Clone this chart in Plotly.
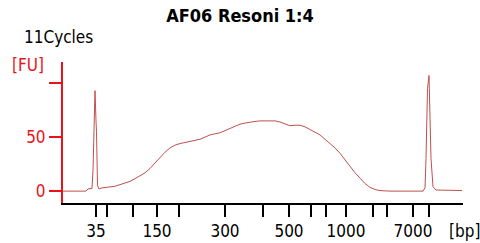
import plotly.graph_objects as go

# Migration time (s) of the ladder fragments and their sizes
ladder_time = [46.6, 48.8, 54.0, 58.8, 63.2, 72.4, 80.0, 85.2, 89.6, 92.6, 96.6, 102.0, 104.8, 110.0, 113.2]
ladder_bp = [35, 50, 100, 150, 200, 300, 400, 500, 600, 700, 1000, 2000, 3000, 7000, 10380]
labelled_bp = [35, 150, 300, 500, 1000, 7000]

# Electropherogram trace: migration time (s) and fluorescence (FU)
time_s = [40.0, 44.6, 45.0, 45.8, 46.0, 46.4, 46.6, 46.7, 46.9, 47.2, 47.8, 49.4, 50.4, 51.4,
          52.4, 53.4, 54.4, 55.4, 56.4, 57.4, 58.4, 59.4, 60.4, 61.4, 62.4, 63.4, 64.4, 65.4,
          66.4, 67.4, 68.4, 69.4, 70.4, 71.4, 72.4, 73.4, 74.4, 75.4, 76.4, 77.4, 78.4, 79.4,
          80.4, 81.4, 82.4, 83.4, 84.4, 85.4, 86.4, 87.4, 88.4, 89.4, 90.4, 91.4, 92.4, 93.4,
          94.4, 95.4, 96.4, 97.4, 98.4, 99.4, 100.4, 101.4, 102.4, 103.4, 105.4, 112.0, 112.4,
          112.6, 112.9, 113.2, 113.4, 113.6, 114.0, 114.6, 119.8]
fu = [0, 0, 2, 2.5, 19, 93, 65, 55, 5, 2, 3, 3.5, 4.5, 6,
      7.5, 9, 11.5, 14, 17, 21, 26, 31, 36, 40, 42.5, 44, 45, 46,
      47, 48, 50, 52, 53, 54, 56, 58, 60, 62, 63, 64, 64.5, 65,
      65, 65.5, 65, 64, 62, 60.5, 61, 61, 59.5, 57, 55, 52, 48, 44,
      40, 35, 29, 22, 17, 12, 7, 3.5, 1.5, 0.5, 0, 0, 3,
      30, 95, 107, 78, 30, 4, 1, 0.5]

y_ticks = [0, 50, 100]
y_ticktext = ["0", "50", ""]

FONT = "DejaVu Sans Condensed"
RED = "#e8141c"
TRACE = "#c0504d"

fig = go.Figure()
fig.add_trace(go.Scatter(x=time_s, y=fu, mode="lines",
                         line=dict(color=TRACE, width=1), hoverinfo="skip"))

fig.update_layout(
    width=480, height=243,
    margin=dict(l=63, r=17, t=62, b=40, autoexpand=False),
    paper_bgcolor="white", plot_bgcolor="white",
    showlegend=False,
    font=dict(family=FONT, size=17, color="black"),
    title=dict(text="<b>AF06 Resoni 1:4</b>", x=0.5, xanchor="center",
               y=1 - 16 / 243, yanchor="middle",
               font=dict(family=FONT, size=18, color="black")),
)
fig.update_xaxes(
    range=[40, 120], showgrid=False, zeroline=False, automargin=False,
    showline=True, linecolor="black", linewidth=2,
    ticks="outside", ticklen=12, tickwidth=2, tickcolor="black",
    tickvals=ladder_time,
    ticktext=[str(b) if b in labelled_bp else "" for b in ladder_bp],
    tickfont=dict(family=FONT, size=17, color="black"),
)
fig.update_yaxes(
    range=[-11, 119.5], showgrid=False, zeroline=False, automargin=False,
    showline=True, linecolor=RED, linewidth=2,
    ticks="outside", ticklen=12, tickwidth=2, tickcolor=RED,
    tickvals=y_ticks, ticktext=y_ticktext,
    tickfont=dict(family=FONT, size=17, color=RED),
)

fig.add_annotation(text="11Cycles", xref="paper", yref="paper",
                   x=(22 - 63) / 400, y=(203 - 37) / 141, xanchor="left", yanchor="middle",
                   showarrow=False, font=dict(family=FONT, size=17, color="black"))
fig.add_annotation(text="[FU]", xref="paper", yref="paper",
                   x=(10 - 63) / 400, y=(203 - 65) / 141, xanchor="left", yanchor="middle",
                   showarrow=False, font=dict(family=FONT, size=17, color=RED))
fig.add_annotation(text="[bp]", xref="paper", yref="paper",
                   x=(465 - 63) / 400, y=(203 - 231) / 141, xanchor="center", yanchor="middle",
                   showarrow=False, font=dict(family=FONT, size=17, color="black"))

fig.write_html("out.html", config={"displayModeBar": False},
               post_script="document.body.style.margin='0';")
